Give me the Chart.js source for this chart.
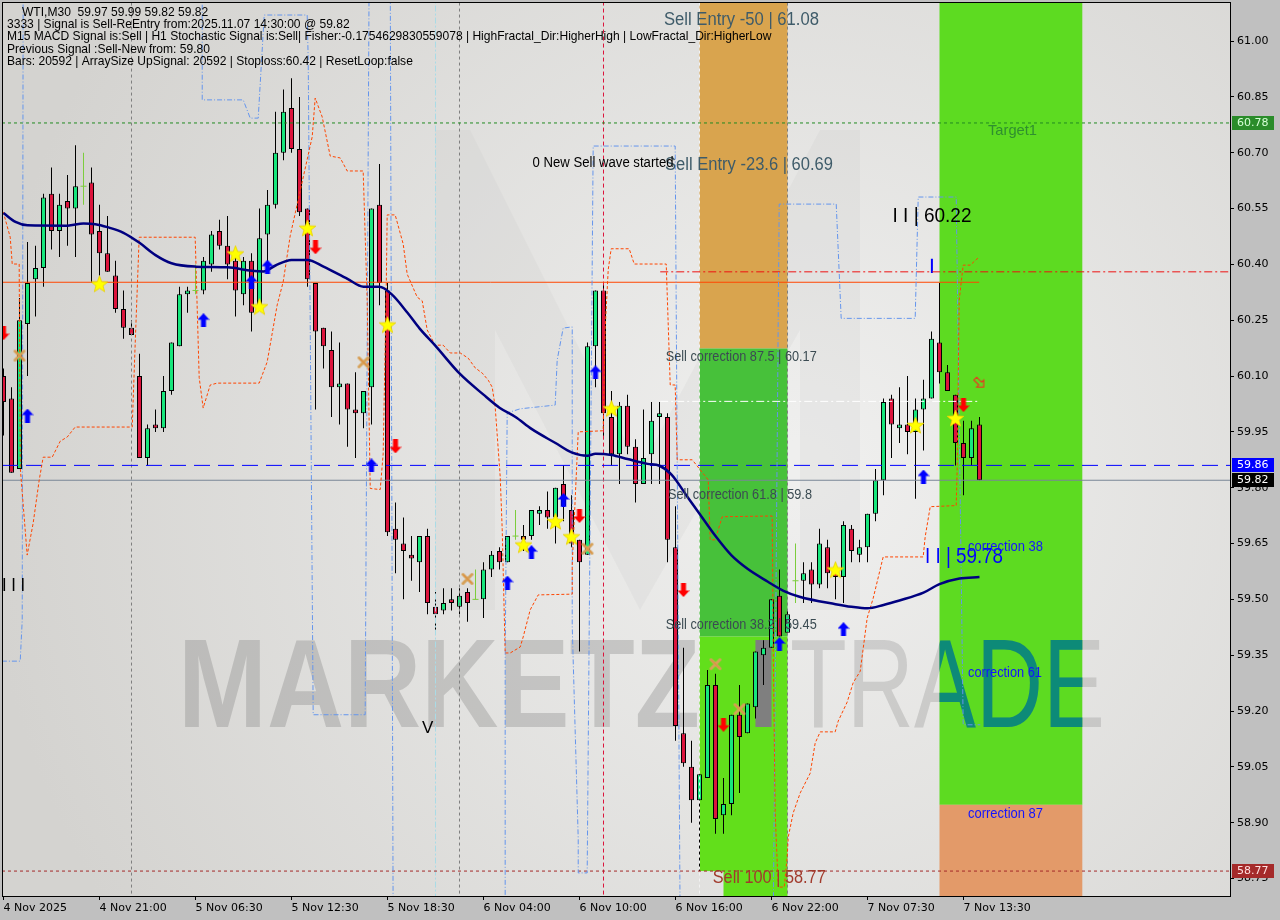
<!DOCTYPE html>
<html>
<head>
<meta charset="utf-8">
<title>WTI,M30</title>
<script src="https://cdn.jsdelivr.net/npm/chart.js@4.4.1/dist/chart.umd.min.js"></script>
<style>
html,body{margin:0;padding:0;background:#c0c0c0;overflow:hidden;}
canvas{display:block;}
</style>
</head>
<body>
<canvas id="chart" width="1280" height="920"></canvas>
<script>
// ---------------- DATA ----------------
const timeTickBars = [0, 12, 24, 36, 48, 60, 72, 84, 96, 108, 120];
const timeTickLabels = ['4 Nov 2025', '4 Nov 21:00', '5 Nov 06:30', '5 Nov 12:30', '5 Nov 18:30',
  '6 Nov 04:00', '6 Nov 10:00', '6 Nov 16:00', '6 Nov 22:00', '7 Nov 07:30', '7 Nov 13:30'];
const priceTicks = [61.00, 60.85, 60.70, 60.55, 60.40, 60.25, 60.10, 59.95, 59.80, 59.65, 59.50, 59.35, 59.20, 59.05, 58.90, 58.75];

const candleOpen = [60.10,60.04,59.85,60.24,60.36,60.39,60.59,60.49,60.57,60.55,
  60.61,60.62,60.49,60.43,60.37,60.28,60.23,60.10,59.88,59.97,
  59.96,60.06,60.18,60.32,60.33,60.33,60.40,60.49,60.45,60.41,
  60.32,60.41,60.29,60.48,60.56,60.70,60.82,60.71,60.55,60.35,
  60.23,60.17,60.07,60.08,60.01,60.00,60.07,60.56,60.33,59.69,
  59.65,59.62,59.60,59.67,59.48,59.47,59.50,59.48,59.52,59.50,
  59.50,59.58,59.63,59.60,59.67,59.67,59.67,59.73,59.74,59.72,
  59.81,59.74,59.66,59.62,60.18,60.33,59.99,59.89,60.02,59.91,
  59.81,59.89,59.99,59.99,59.64,59.14,59.05,58.96,59.02,59.27,
  58.92,58.95,59.19,59.14,59.21,59.35,59.37,59.51,59.41,59.55,
  59.55,59.58,59.54,59.64,59.58,59.56,59.69,59.62,59.64,59.73,
  59.82,60.04,59.96,59.97,59.95,60.01,60.04,60.19,60.11,60.05,
  59.92,59.88,59.97];
const candleHigh = [60.12,60.07,60.31,60.46,60.45,60.59,60.66,60.59,60.64,60.72,
  60.70,60.66,60.56,60.53,60.41,60.33,60.25,60.16,59.97,60.01,
  60.10,60.19,60.34,60.34,60.40,60.42,60.49,60.52,60.53,60.43,
  60.42,60.43,60.55,60.60,60.81,60.87,60.90,60.85,60.55,60.35,
  60.23,60.22,60.19,60.08,60.11,60.06,60.55,60.67,60.35,59.76,
  59.72,59.67,59.67,59.69,59.52,59.53,59.53,59.53,59.53,59.58,
  59.60,59.63,59.64,59.67,59.74,59.70,59.74,59.75,59.79,59.80,
  59.86,59.78,59.66,60.19,60.33,60.35,60.06,60.03,60.05,59.93,
  60.01,60.03,60.03,60.00,59.75,59.37,59.12,59.03,59.31,59.30,
  59.02,59.19,59.27,59.22,59.36,59.39,59.50,59.58,59.47,59.65,
  59.60,59.60,59.69,59.66,59.59,59.71,59.70,59.66,59.73,59.85,
  60.04,60.05,60.07,60.10,60.04,60.09,60.22,60.35,60.13,60.05,
  59.98,59.98,59.99];
const candleLow = [59.94,59.84,59.85,60.10,60.26,60.34,60.44,60.42,60.45,60.42,
  60.56,60.35,60.37,60.38,60.27,60.20,60.21,59.88,59.86,59.95,
  59.95,60.05,60.18,60.27,60.32,60.32,60.38,60.44,60.36,60.26,
  60.29,60.22,60.28,60.39,60.55,60.68,60.70,60.53,60.34,60.01,
  60.12,59.99,59.97,59.91,59.88,59.96,59.97,60.29,59.67,59.57,
  59.50,59.55,59.52,59.46,59.41,59.46,59.47,59.46,59.44,59.50,
  59.45,59.56,59.58,59.60,59.66,59.63,59.66,59.70,59.69,59.65,
  59.71,59.64,59.36,59.62,60.07,59.93,59.86,59.81,59.89,59.76,
  59.81,59.81,59.81,59.60,59.12,59.05,58.90,58.77,59.02,58.87,
  58.87,58.92,58.98,59.14,59.18,59.27,59.37,59.40,59.41,59.49,
  59.49,59.49,59.53,59.53,59.50,59.49,59.60,59.60,59.60,59.71,
  59.78,59.88,59.92,59.89,59.77,59.90,60.04,60.08,60.06,59.86,
  59.78,59.86,59.82];
const candleClose = [60.03,59.84,60.25,60.35,60.39,60.58,60.49,60.56,60.55,60.61,
  60.61,60.48,60.43,60.38,60.28,60.23,60.21,59.88,59.96,59.96,
  60.06,60.19,60.32,60.33,60.33,60.41,60.48,60.45,60.40,60.33,
  60.41,60.27,60.47,60.56,60.70,60.81,60.71,60.54,60.36,60.22,
  60.18,60.07,60.08,60.01,60.00,60.06,60.55,60.35,59.68,59.66,
  59.63,59.61,59.67,59.49,59.46,59.49,59.49,59.51,59.49,59.50,
  59.58,59.62,59.60,59.67,59.67,59.66,59.74,59.74,59.72,59.80,
  59.75,59.65,59.60,60.18,60.33,60.00,59.89,60.02,59.91,59.81,
  59.88,59.98,60.00,59.66,59.16,59.06,58.96,59.03,59.27,58.91,
  58.95,59.19,59.13,59.22,59.36,59.37,59.50,59.40,59.46,59.55,
  59.57,59.54,59.65,59.57,59.56,59.70,59.63,59.64,59.73,59.82,
  60.03,59.97,59.97,59.95,60.01,60.04,60.20,60.11,60.06,59.92,
  59.88,59.96,59.82];

// moving average (navy), read at sample bars
const maBars = [0,1.5,3,8,10,11.5,13,15,17,19,21,24,28,31,32.5,34,36,38,40,43,45,47,48.5,50.5,52,54,57,60,62,64,66,69,71,73,74,76,78,80.5,82,83.5,85.5,87,89,91,93,95.5,97.5,99.5,104,106,108,110,112,115,117,119.5,122];
const maValues = [60.538,60.514,60.505,60.504,60.510,60.508,60.500,60.485,60.458,60.425,60.403,60.394,60.392,60.383,60.381,60.397,60.412,60.412,60.394,60.361,60.340,60.340,60.32,60.27,60.228,60.181,60.107,60.050,60.015,59.99,59.958,59.920,59.895,59.886,59.891,59.888,59.877,59.864,59.859,59.835,59.775,59.730,59.670,59.618,59.582,59.548,59.523,59.507,59.487,59.480,59.476,59.485,59.497,59.518,59.541,59.556,59.560];

// orange dotted step line
const trailBars = [-0.2,0.84,1.09,1.96,2.09,2.96,3.71,4.46,4.96,6.09,7.09,7.96,8.96,16.09,16.46,16.96,23.96,24.46,24.96,25.84,26.71,31.96,32.96,34.21,34.96,35.84,38.59,38.96,39.84,40.84,42.09,42.96,44.96,45.46,45.84,47.09,47.46,47.84,47.96,48.96,49.96,50.46,51.71,52.34,52.96,53.96,54.96,55.84,57.09,58.09,58.96,59.84,60.59,61.09,61.46,62.09,62.34,62.71,63.34,64.59,64.96,65.84,66.84,71.09,71.09,71.84,74.96,75.21,75.59,75.96,78.21,78.84,82.84,83.34,83.96,84.21,86.09,88.09,88.34,88.96,89.84,96.09,96.21,96.46,96.84,97.59,97.96,98.09,98.71,99.59,100.84,101.46,102.09,103.96,104.34,105.46,106.21,107.09,107.96,108.71,109.96,114.96,115.21,115.84,119.09,119.21,119.46,119.96,120.84,121.96];
const trailPrices = [60.554,60.473,60.401,60.401,59.855,59.619,59.705,59.820,59.882,59.882,59.925,59.936,59.963,59.963,60.186,60.473,60.473,60.096,60.014,60.076,60.081,60.081,60.138,60.291,60.353,60.477,60.743,60.847,60.796,60.691,60.686,60.651,60.651,60.304,59.798,59.795,59.891,60.332,60.533,60.533,60.455,60.374,60.312,60.302,60.224,60.183,60.183,60.162,60.162,60.148,60.122,60.108,60.089,60.070,60.017,59.829,59.687,59.356,59.356,59.372,59.399,59.472,59.512,59.514,59.592,59.950,59.953,60.227,60.386,60.442,60.442,60.401,60.401,60.076,60.076,59.875,59.875,59.821,59.660,59.660,59.722,59.724,59.383,58.926,58.727,58.727,58.807,58.861,58.926,58.980,59.033,59.114,59.144,59.144,59.173,59.224,59.276,59.307,59.450,59.503,59.614,59.614,59.668,59.749,59.752,59.854,60.304,60.398,60.398,60.420];

// blue dash-dot step line
const bandBars = [-0.2,2.09,2.34,2.46,24.84,24.84,29.96,30.84,31.84,32.59,37.96,38.09,38.71,45.21,45.71,48.34,48.71,62.71,62.71,62.96,64.59,68.96,69.21,69.96,71.09,71.09,71.84,71.84,72.96,73.71,83.96,84.59,96.21,96.96,104.09,104.71,113.96,114.34,119.09,119.96,122.09];
const bandPrices = [59.334,59.334,59.444,61.2,61.2,60.842,60.842,60.793,60.793,61.070,61.070,60.949,59.190,59.190,61.2,61.2,58.6,58.6,59.337,60.001,60.012,60.022,60.143,60.229,60.232,59.429,58.857,58.765,58.765,60.718,60.718,58.6,58.6,60.562,60.562,60.255,60.255,60.581,60.581,59.163,59.163];

// signal markers
const upArrowBars = [3,25,31,33,46,63,66,70,74,97,105,115];
const upArrowPrices = [59.994,60.25,60.353,60.394,59.86,59.545,59.627,59.767,60.11,59.38,59.42,59.83];
const downArrowBars = [0,39,49,72,85,90,120];
const downArrowPrices = [60.215,60.446,59.911,59.724,59.525,59.163,60.022];
const starBars = [12,29,32,38,48,65,69,71,76,104,114,119];
const starPrices = [60.347,60.428,60.286,60.497,60.237,59.646,59.709,59.668,60.012,59.579,59.967,59.986];
const crossBars = [2,45,58,73,89,92];
const crossPrices = [60.155,60.137,59.555,59.636,59.326,59.205];

// levels
const targetLevel = 60.78;
const stopLevel = 60.352;
const entryLevel = 60.380;
const whiteLevel = 60.032;
const bidLevel = 59.86;
const lastPrice = 59.82;
const sell100Level = 58.77;

// ---------------- HELPERS ----------------
const BULL = '#17e67c', BEAR = '#dc143c', DOJI = '#7ccd3c';
const XMIN = -0.1875, XMAX = 153.3125, YMIN = 58.703, YMAX = 61.105;

function mk(w, h, draw) { const c = document.createElement('canvas'); c.width = w; c.height = h; draw(c.getContext('2d')); return c; }
const upImg = mk(12, 14, ctx => { ctx.fillStyle = '#0000ff'; ctx.beginPath(); ctx.moveTo(6, 0); ctx.lineTo(12, 6.5); ctx.lineTo(8.5, 6.5); ctx.lineTo(8.5, 14); ctx.lineTo(3.5, 14); ctx.lineTo(3.5, 6.5); ctx.lineTo(0, 6.5); ctx.closePath(); ctx.fill(); });
const downImg = mk(12, 14, ctx => { ctx.fillStyle = '#ff0000'; ctx.beginPath(); ctx.moveTo(6, 14); ctx.lineTo(12, 7.5); ctx.lineTo(8.5, 7.5); ctx.lineTo(8.5, 0); ctx.lineTo(3.5, 0); ctx.lineTo(3.5, 7.5); ctx.lineTo(0, 7.5); ctx.closePath(); ctx.fill(); });
const starImg = mk(19, 19, ctx => { ctx.fillStyle = '#ffff00'; ctx.strokeStyle = '#e8cf00'; ctx.lineWidth = 0.8; ctx.beginPath(); for (let k = 0; k < 10; k++) { const r = k % 2 ? 3.7 : 8.8; const a = -Math.PI / 2 + k * Math.PI / 5; const px = 9.5 + r * Math.cos(a), py = 10 + r * Math.sin(a); k ? ctx.lineTo(px, py) : ctx.moveTo(px, py); } ctx.closePath(); ctx.fill(); ctx.stroke(); });
const crossImg = mk(14, 14, ctx => { ctx.strokeStyle = '#d6a158'; ctx.lineWidth = 3; ctx.lineCap = 'round'; ctx.beginPath(); ctx.moveTo(2.5, 2.5); ctx.lineTo(11.5, 11.5); ctx.moveTo(11.5, 2.5); ctx.lineTo(2.5, 11.5); ctx.stroke(); ctx.strokeStyle = '#e08a3a'; ctx.lineWidth = 1; ctx.beginPath(); ctx.moveTo(3, 3); ctx.lineTo(11, 11); ctx.stroke(); });
const hollowImg = mk(14, 14, ctx => { ctx.translate(7, 7); ctx.rotate(Math.PI / 4); ctx.strokeStyle = '#ff2020'; ctx.lineWidth = 1; ctx.beginPath(); ctx.moveTo(6, 0); ctx.lineTo(1, -5); ctx.lineTo(1, -2); ctx.lineTo(-6, -2); ctx.lineTo(-6, 2); ctx.lineTo(1, 2); ctx.lineTo(1, 5); ctx.closePath(); ctx.stroke(); });

const bodyData = candleOpen.map((o, i) => ({ x: i, y: [o, candleClose[i]] }));
const bodyFill = candleOpen.map((o, i) => candleClose[i] > o ? BULL : (candleClose[i] < o ? BEAR : 'rgba(0,0,0,0)'));
const bodyEdge = candleOpen.map((o, i) => candleClose[i] === o ? 'rgba(0,0,0,0)' : '#000000');
const wickData = candleLow.map((l, i) => ({ x: i, y: [l, candleHigh[i]] }));
const wickFill = candleOpen.map((o, i) => candleClose[i] === o ? DOJI : '#000000');
const dojiData = candleOpen.map((o, i) => ({ x: i, y: o })).filter((p, i) => candleClose[i] === candleOpen[i]);

const pts = (bs, vs) => bs.map((b, i) => ({ x: b, y: vs[i] }));
const hline = (y, x0, x1) => [{ x: x0, y: y }, { x: x1, y: y }];
const vline = (x) => [{ x: x, y: 58.5 }, { x: x, y: 61.3 }];

function lineDs(data, color, width, dash, order, extra) {
  return Object.assign({ type: 'line', data, borderColor: color, borderWidth: width, borderDash: dash || [], pointRadius: 0, fill: false, tension: 0, order }, extra || {});
}
function markDs(bs, vs, img, order) {
  return { type: 'scatter', data: pts(bs, vs), pointStyle: img, pointRadius: 7, order: order };
}

// rectangles (zones)
const zones = [
  { b0: 87, b1: 98, top: 61.3, bottom: 60.174, color: '#d9a44e' },
  { b0: 87, b1: 98, top: 60.174, bottom: 59.40, color: '#47c13a' },
  { b0: 87, b1: 98, top: 59.40, bottom: 58.77, color: '#62df1b' },
  { b0: 90, b1: 98, top: 58.77, bottom: 58.5, color: '#62df1b' },
  { b0: 117, b1: 134.85, top: 61.3, bottom: 58.948, color: '#5ddb21' },
  { b0: 117, b1: 134.85, top: 58.948, bottom: 58.5, color: '#e39a69' }
];

const annotations = [
  { t: 'Sell Entry -50 | 61.08', b: 82.56, p: 61.057, size: 18, color: '#3e5b69', w: 155 },
  { t: 'Sell Entry -23.6 | 60.69', b: 82.69, p: 60.667, size: 18, color: '#3e5b69', w: 168 },
  { t: '0 New Sell wave started', b: 66.13, p: 60.672, size: 14, color: '#000000', w: 141 },
  { t: 'Sell correction 87.5 | 60.17', b: 82.78, p: 60.150, size: 14, color: '#3b4b52', w: 151 },
  { t: 'Sell correction 61.8 | 59.8', b: 83.06, p: 59.779, size: 14, color: '#3b4b52', w: 144 },
  { t: 'Sell correction 38.2 | 59.45', b: 82.78, p: 59.430, size: 14, color: '#3b4b52', w: 151 },
  { t: 'Sell 100 | 58.77', b: 88.65, p: 58.752, size: 18, color: '#a13a2c', w: 113 },
  { t: 'Target1', b: 123.06, p: 60.758, size: 15, color: '#2f8f2f', w: 49 },
  { t: 'I I | 60.22', b: 111.13, p: 60.530, size: 21, color: '#000000', w: 79 },
  { t: 'I I | 59.78', b: 115.19, p: 59.614, size: 22, color: '#0000ff', w: 78 },
  { t: 'correction 38', b: 120.56, p: 59.641, size: 14, color: '#1414ff', w: 75 },
  { t: 'correction 61', b: 120.56, p: 59.302, size: 14, color: '#1414ff', w: 74 },
  { t: 'correction 87', b: 120.56, p: 58.923, size: 14, color: '#1414ff', w: 75 },
  { t: 'V', b: 52.31, p: 59.154, size: 17, color: '#000000', w: 0 },
  { t: 'I I I', b: -0.19, p: 59.536, size: 18, color: '#000000', w: 23 }
];

const headerLines = [
  { t: 'WTI,M30  59.97 59.99 59.82 59.82', x: 22, y: 13 },
  { t: '3333 | Signal is Sell-ReEntry from:2025.11.07 14:30:00 @ 59.82', x: 7, y: 25 },
  { t: 'M15 MACD Signal is:Sell | H1 Stochastic Signal is:Sell| Fisher:-0.1754629830559078 | HighFractal_Dir:HigherHigh | LowFractal_Dir:HigherLow', x: 7, y: 37 },
  { t: 'Previous Signal :Sell-New from: 59.80', x: 7, y: 50 },
  { t: 'Bars: 20592 | ArraySize UpSignal: 20592 | Stoploss:60.42 | ResetLoop:false', x: 7, y: 62 }
];

const priceBoxes = [
  { p: targetLevel, bg: '#2a8c2a', fg: '#d6ffd6' },
  { p: bidLevel, bg: '#0000ff', fg: '#ffffff' },
  { p: lastPrice, bg: '#000000', fg: '#ffffff' },
  { p: sell100Level, bg: '#a52a2a', fg: '#ffe0e0' }
];

function fitText(ctx, txt, x, y, font, color, w, baseline) {
  ctx.save();
  ctx.font = font; ctx.fillStyle = color; ctx.textAlign = 'left'; ctx.textBaseline = baseline || 'middle';
  const m = ctx.measureText(txt).width;
  ctx.translate(x, y);
  if (w && m > 0) ctx.scale(w / m, 1);
  ctx.fillText(txt, 0, 0);
  ctx.restore();
}

const drawPlugin = {
  id: 'mt4',
  beforeDraw(chart) {
    const ctx = chart.ctx, a = chart.chartArea;
    ctx.save();
    ctx.fillStyle = '#c0c0c0'; ctx.fillRect(0, 0, chart.width, chart.height);
    const g = ctx.createRadialGradient(800, 470, 30, 800, 470, 820);
    g.addColorStop(0, '#efefee'); g.addColorStop(1, '#d4d3d0');
    ctx.fillStyle = g; ctx.fillRect(a.left, a.top, a.right - a.left, a.bottom - a.top);
    ctx.restore();
  },
  beforeDatasetsDraw(chart) {
    const ctx = chart.ctx, a = chart.chartArea, xs = chart.scales.x, ys = chart.scales.y;
    ctx.save();
    ctx.beginPath(); ctx.rect(a.left, a.top, a.right - a.left, a.bottom - a.top); ctx.clip();
    // faint logo chevron
    ctx.fillStyle = 'rgba(190,190,190,0.16)';
    ctx.beginPath(); ctx.moveTo(435, 130); ctx.lineTo(470, 130); ctx.lineTo(640, 470); ctx.lineTo(820, 130); ctx.lineTo(860, 130); ctx.lineTo(860, 610); ctx.lineTo(800, 610); ctx.lineTo(800, 330); ctx.lineTo(640, 610); ctx.lineTo(495, 330); ctx.lineTo(495, 610); ctx.lineTo(435, 610); ctx.closePath(); ctx.fill();
    zones.forEach(z => {
      const x0 = xs.getPixelForValue(z.b0), x1 = xs.getPixelForValue(z.b1);
      const y0 = ys.getPixelForValue(z.top), y1 = ys.getPixelForValue(z.bottom);
      ctx.fillStyle = z.color; ctx.fillRect(x0, y0, x1 - x0, y1 - y0);
    });
    // watermark
    const base = 727;
    fitText(ctx, 'MARKETZ', 178, base, 'bold 126px "Liberation Sans"', 'rgba(120,120,120,0.30)', 522, 'alphabetic');
    fitText(ctx, 'I', 748, base, 'bold 126px "Liberation Sans"', '#7f7f7f', 31, 'alphabetic');
    fitText(ctx, 'TRADE', 790, base, '126px "Liberation Sans"', 'rgba(125,125,125,0.26)', 315, 'alphabetic');
    const zx0 = xs.getPixelForValue(117), zx1 = xs.getPixelForValue(134.85);
    ctx.save(); ctx.beginPath(); ctx.rect(zx0, a.top, zx1 - zx0, ys.getPixelForValue(58.948) - a.top); ctx.clip();
    fitText(ctx, 'TRADE', 790, base, '126px "Liberation Sans"', '#0d8a78', 315, 'alphabetic');
    ctx.restore();
    ctx.restore();
  },
  afterDatasetsDraw(chart) {
    const ctx = chart.ctx, a = chart.chartArea, xs = chart.scales.x, ys = chart.scales.y;
    ctx.save();
    ctx.beginPath(); ctx.rect(a.left, a.top, a.right - a.left, a.bottom - a.top); ctx.clip();
    annotations.forEach(n => {
      fitText(ctx, n.t, xs.getPixelForValue(n.b), ys.getPixelForValue(n.p), n.size + 'px "Liberation Sans"', n.color, n.w);
    });
    ctx.restore();
  },
  afterDraw(chart) {
    const ctx = chart.ctx, a = chart.chartArea, ys = chart.scales.y;
    ctx.save();
    ctx.font = '12px "Liberation Sans"';
    const m = ctx.measureText(headerLines[2].t).width;
    const fs = 12 * 765 / m;
    headerLines.forEach(h => fitText(ctx, h.t, h.x, h.y, fs.toFixed(2) + 'px "Liberation Sans"', '#000000', 0));
    ctx.strokeStyle = '#000'; ctx.lineWidth = 1;
    ctx.strokeRect(a.left + 0.5, a.top + 0.5, a.right - a.left, a.bottom - a.top);
    priceBoxes.forEach(pb => {
      const y = Math.round(ys.getPixelForValue(pb.p));
      ctx.fillStyle = pb.bg; ctx.fillRect(a.right + 2, y - 7, 42, 14);
      ctx.font = '11px "DejaVu Sans"'; ctx.fillStyle = pb.fg; ctx.textBaseline = 'middle'; ctx.textAlign = 'left';
      ctx.fillText(pb.p.toFixed(2), a.right + 7, y + 0.5);
    });
    ctx.restore();
  }
};

const datasets = [
  markDs(starBars, starPrices, starImg, 0),
  markDs(upArrowBars, upArrowPrices, upImg, 0),
  markDs(downArrowBars, downArrowPrices, downImg, 0),
  markDs(crossBars, crossPrices, crossImg, 0),
  markDs([122], [60.082], hollowImg, 0),
  { type: 'scatter', data: dojiData, pointStyle: 'line', pointRadius: 3, borderColor: DOJI, borderWidth: 1, order: 1 },
  lineDs(pts(maBars, maValues), '#000080', 2.5, [], 2, { cubicInterpolationMode: 'monotone' }),
  lineDs(pts(trailBars, trailPrices), '#ff4500', 1, [3, 2], 3),
  lineDs(pts(bandBars, bandPrices), '#6495ed', 1, [5, 2, 1, 2], 3),
  lineDs(hline(targetLevel, XMIN, XMAX), '#228b22', 1, [3, 3], 4),
  lineDs(hline(stopLevel, XMIN, 121.96), '#ff4500', 1, [], 4),
  lineDs(hline(entryLevel, 82.09, XMAX), '#ee1111', 1, [8, 3, 2, 3], 4),
  lineDs(hline(whiteLevel, 82.09, 121.96), '#ffffff', 1, [8, 3, 2, 3], 4),
  lineDs(hline(bidLevel, XMIN, XMAX), '#0000ff', 1, [16, 8], 4),
  lineDs(hline(lastPrice, XMIN, XMAX), '#7a8796', 1, [], 4),
  lineDs(hline(sell100Level, XMIN, XMAX), '#a52a2a', 1, [3, 3], 4),
  lineDs([{ x: 116.05, y: 60.415 }, { x: 116.05, y: 60.377 }], '#0000ff', 2, [], 4),
  lineDs(vline(16), '#7f7f7f', 1, [3, 3], 6),
  lineDs(vline(54), '#a9dbe6', 1, [6, 2, 2, 2], 6),
  lineDs(vline(57), '#7f7f7f', 1, [3, 3], 6),
  lineDs(vline(75), '#dc143c', 1, [4, 3], 6),
  lineDs(vline(87), '#f2f2f2', 1, [3, 3], 6),
  lineDs(vline(98), '#7f7f7f', 1, [3, 3], 6),
  { type: 'bar', data: bodyData, backgroundColor: bodyFill, borderColor: bodyEdge, borderWidth: 1, borderSkipped: false, barThickness: 5, grouped: false, inflateAmount: 0, order: 20 },
  { type: 'bar', data: wickData, backgroundColor: wickFill, borderWidth: 0, barThickness: 1, grouped: false, inflateAmount: 0, order: 21 }
];

new Chart(document.getElementById('chart'), {
  type: 'bar',
  data: { datasets },
  plugins: [drawPlugin],
  options: {
    responsive: false,
    devicePixelRatio: 1,
    animation: false,
    events: [],
    layout: { autoPadding: false, padding: { left: 2, top: 2, right: 0, bottom: 0 } },
    plugins: { legend: { display: false }, tooltip: { enabled: false } },
    scales: {
      x: {
        type: 'linear', min: XMIN, max: XMAX, bounds: 'data', offset: false,
        afterBuildTicks: s => { s.ticks = timeTickBars.map(v => ({ value: v })); },
        afterFit: s => { s.height = 24; s.paddingLeft = 0; s.paddingRight = 0; },
        ticks: { autoSkip: false, maxRotation: 0, minRotation: 0, align: 'start', padding: 2, color: '#000', font: { family: 'DejaVu Sans', size: 11 }, callback: (v, i) => timeTickLabels[i] },
        grid: { drawOnChartArea: false, drawTicks: true, tickLength: 4, color: '#000', offset: false },
        border: { display: false }
      },
      y: {
        type: 'linear', position: 'right', min: YMIN, max: YMAX, bounds: 'data',
        afterBuildTicks: s => { s.ticks = priceTicks.map(v => ({ value: v })); },
        afterFit: s => { s.width = 50; s.paddingTop = 0; s.paddingBottom = 0; },
        ticks: { autoSkip: false, padding: 3, color: '#000', font: { family: 'DejaVu Sans', size: 11 }, callback: v => Number(v).toFixed(2) },
        grid: { drawOnChartArea: false, drawTicks: true, tickLength: 4, color: '#000' },
        border: { display: false }
      }
    }
  }
});
</script>
</body>
</html>
